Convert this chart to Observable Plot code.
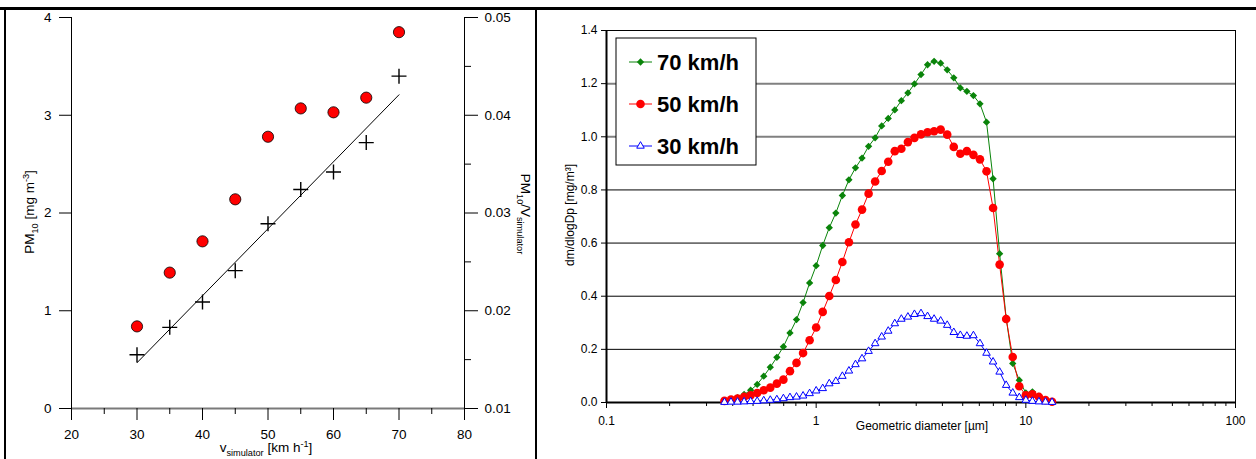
<!DOCTYPE html>
<html><head><meta charset="utf-8">
<script src="https://cdn.jsdelivr.net/npm/d3@7"></script>
<script src="https://cdn.jsdelivr.net/npm/@observablehq/plot@0.6"></script>
<style>
body{margin:0;background:#fff;width:1256px;height:459px;overflow:hidden;position:relative;font-family:"Liberation Sans",Arial,sans-serif}
#left{position:absolute;left:0;top:0}
#right{position:absolute;left:540px;top:0}
.bt{position:absolute;background:#000}
</style></head><body>
<div id="left"></div><div id="right"></div>
<div class="bt" style="left:0;top:7px;width:1256px;height:3px"></div>
<div class="bt" style="left:4px;top:7px;width:2px;height:452px"></div>
<div class="bt" style="left:535px;top:7px;width:2px;height:452px"></div>
<script>
// ---------- Left panel data ----------
const speeds = [30, 35, 40, 45, 50, 55, 60, 65, 70];
const pm10 = [0.84, 1.39, 1.71, 2.14, 2.78, 3.07, 3.03, 3.18, 3.85];
const pm10PerV = [0.0155, 0.0183, 0.0209, 0.0241, 0.0289, 0.0324, 0.0342, 0.0372, 0.0440];
const leftXTicks = [20, 30, 40, 50, 60, 70, 80];
const leftXMinor = [25, 35, 45, 55, 65, 75];
const leftYTicks = [0, 1, 2, 3, 4];
const rightAxisLabels = ["0.01", "0.02", "0.03", "0.04", "0.05"];
const rightAxisMinor = [0.5, 1.5, 2.5, 3.5];

// ---------- Right panel data ----------
const diameters = [0.3652,0.3924,0.4217,0.4532,0.4870,0.5233,0.5623,0.6043,0.6494,0.6978,
  0.7499,0.8058,0.8660,0.9306,1.000,1.0746,1.1548,1.2409,1.3335,1.4330,
  1.5399,1.6548,1.7783,1.9110,2.0535,2.2067,2.3714,2.5483,2.7384,2.9427,
  3.1623,3.3982,3.6517,3.9242,4.2170,4.5315,4.8697,5.2330,5.6234,6.0430,
  6.4938,6.9783,7.4989,8.0584,8.6596,9.3057,10.000,10.746,11.548,12.409,13.335];
const v70 = [0.005,0.010,0.018,0.030,0.046,0.068,0.099,0.133,0.170,0.210,
  0.262,0.312,0.376,0.450,0.515,0.591,0.658,0.713,0.779,0.838,
  0.883,0.920,0.964,0.996,1.041,1.069,1.101,1.136,1.165,1.199,
  1.234,1.271,1.284,1.277,1.252,1.222,1.184,1.171,1.155,1.124,
  1.055,0.842,0.560,0.318,0.147,0.084,0.036,0.040,0.024,0.011,0.003];
const v50 = [0.006,0.011,0.015,0.021,0.027,0.036,0.046,0.056,0.071,0.086,
  0.118,0.149,0.186,0.234,0.282,0.341,0.401,0.461,0.529,0.603,
  0.670,0.726,0.786,0.832,0.871,0.906,0.946,0.955,0.980,0.996,
  1.009,1.017,1.021,1.027,1.008,0.962,0.936,0.946,0.932,0.915,
  0.870,0.732,0.519,0.314,0.171,0.061,0.027,0.031,0.021,0.009,0.003];
const v30 = [0.001,0.002,0.002,0.003,0.004,0.005,0.007,0.009,0.011,0.015,
  0.019,0.021,0.025,0.034,0.044,0.053,0.071,0.080,0.099,0.119,
  0.143,0.165,0.193,0.222,0.247,0.269,0.297,0.314,0.322,0.332,
  0.335,0.324,0.314,0.307,0.291,0.264,0.253,0.250,0.252,0.222,
  0.186,0.153,0.115,0.065,0.036,0.019,0.009,0.005,0.003,0.002,0.001];
const seriesNames = ["70 km/h", "50 km/h", "30 km/h"];
const rightXTicks = [0.1, 1, 10, 100];
const rightXMinor = [0.2,0.3,0.4,0.5,0.6,0.7,0.8,0.9,2,3,4,5,6,7,8,9,20,30,40,50,60,70,80,90];
const rightYTicks = [0, 0.2, 0.4, 0.6, 0.8, 1.0, 1.2, 1.4];
const gridDark = [0.2, 0.4, 0.6, 0.8];
const gridGray = [1.0, 1.2];

const FONT = '"Liberation Sans", Arial, sans-serif';

// ---------- Left panel ----------
const rightToLeft = r => (r - 0.01) / 0.01;
const leftData = speeds.map((v, i) => ({v, pm: pm10[i], ratio: rightToLeft(pm10PerV[i])}));

const leftPlot = Plot.plot({
  width: 536, height: 459,
  marginLeft: 71, marginRight: 72, marginTop: 17, marginBottom: 51,
  x: {domain: [20, 80]},
  y: {domain: [0, 4]},
  style: {fontFamily: FONT, fontSize: "13.5px", color: "#000", background: "transparent", overflow: "visible"},
  marks: [
    Plot.ruleY([0], {stroke: "#7a7a7a", strokeWidth: 2}),
    Plot.ruleX([20], {stroke: "#000", strokeWidth: 1}),
    Plot.ruleX([80], {stroke: "#000", strokeWidth: 1}),
    Plot.axisX({ticks: leftXTicks, tickSize: 12, tickPadding: 9, label: null, tickFormat: d => String(d)}),
    Plot.axisX({ticks: leftXMinor, tickSize: 6, label: null, tickFormat: () => ""}),
    Plot.axisY({ticks: leftYTicks, tickSize: 12, tickPadding: 8, label: null, tickFormat: d => String(d)}),
    Plot.axisY({anchor: "right", ticks: leftYTicks, tickSize: 13, tickPadding: 7, label: null, tickFormat: d => rightAxisLabels[d]}),
    Plot.axisY({anchor: "right", ticks: rightAxisMinor, tickSize: 6, label: null, tickFormat: () => ""}),
    Plot.linearRegressionY(leftData, {x: "v", y: "ratio", ci: 0, stroke: "#000", strokeWidth: 1}),
    Plot.dot(leftData, {x: "v", y: "ratio", symbol: "plus", r: 4.9, stroke: "#000", strokeWidth: 1.4}),
    Plot.dot(leftData, {x: "v", y: "pm", r: 5.6, fill: "#ff0000", stroke: "#000", strokeWidth: 0.8})
  ]
});
document.getElementById("left").appendChild(leftPlot);

function addRich(svg, x, y, rot, size, parts, anchor = "middle", weight = "normal") {
  const t = d3.select(svg).append("text")
    .attr("transform", `translate(${x},${y}) rotate(${rot})`)
    .attr("text-anchor", anchor)
    .attr("font-family", FONT)
    .attr("font-size", size)
    .attr("font-weight", weight)
    .attr("fill", "#000");
  let cur = 0;
  for (const p of parts) {
    const s = t.append("tspan").text(p.t);
    let target = p.sub ? 0.3 * size : p.sup ? -0.4 * size : 0;
    s.attr("dy", target - cur);
    cur = target;
    if (p.sub || p.sup) s.attr("font-size", size * 0.68);
  }
  return t;
}
addRich(leftPlot, 34, 212, -90, 13.5, [{t: "PM"}, {t: "10", sub: true}, {t: " [mg m"}, {t: "-3", sup: true}, {t: "]"}]);
addRich(leftPlot, 521, 214, 90, 13.5, [{t: "PM"}, {t: "10", sub: true}, {t: "/V"}, {t: "simulator", sub: true}]);
addRich(leftPlot, 266, 452, 0, 13.5, [{t: "v"}, {t: "simulator", sub: true}, {t: " [km h"}, {t: "-1", sup: true}, {t: "]"}]);

// ---------- Right panel ----------
const seriesValues = [v70, v50, v30];
const tidy = seriesValues.map((vals, s) => diameters.map((d, i) => ({d, value: vals[i], series: seriesNames[s]})));
const styles = [
  {color: "#0a840a", symbol: "diamond2", r: 3.3, fill: "#0a840a", stroke: "none"},
  {color: "#ff0000", symbol: "circle", r: 4.3, fill: "#ff0000", stroke: "none"},
  {color: "#0000ff", symbol: "triangle2", r: 3.6, fill: "#fff", stroke: "#0000ff"}
];
const seriesMarks = [];
for (let s = 0; s < 3; s++) {
  seriesMarks.push(Plot.line(tidy[s], {x: "d", y: "value", stroke: styles[s].color, strokeWidth: 1}));
}
for (let s = 0; s < 3; s++) {
  const st = styles[s];
  seriesMarks.push(Plot.dot(tidy[s], {x: "d", y: "value", symbol: st.symbol, r: st.r, fill: st.fill, stroke: st.stroke, strokeWidth: 1}));
}

const rightPlot = Plot.plot({
  width: 716, height: 459,
  marginLeft: 66, marginRight: 21, marginTop: 30, marginBottom: 57,
  x: {type: "log", domain: [0.1, 100]},
  y: {domain: [0, 1.4]},
  style: {fontFamily: FONT, fontSize: "12px", color: "#000", background: "transparent", overflow: "visible"},
  marks: [
    Plot.ruleY(gridDark, {stroke: "#000", strokeWidth: 1}),
    Plot.ruleY(gridGray, {stroke: "#808080", strokeWidth: 2}),
    Plot.frame({stroke: "#000", strokeWidth: 1}),
    Plot.ruleX([0.1], {stroke: "#000", strokeWidth: 2}),
    Plot.ruleY([0], {stroke: "#000", strokeWidth: 2}),
    Plot.axisY({ticks: rightYTicks, tickSize: 5, tickPadding: 4, label: null, tickFormat: d => d.toFixed(1)}),
    Plot.axisX({ticks: rightXTicks, tickSize: 6, tickPadding: 8, label: null, tickFormat: d => String(d)}),
    Plot.axisX({ticks: rightXMinor, tickSize: 4, label: null, tickFormat: () => ""}),
    ...seriesMarks
  ]
});
document.getElementById("right").appendChild(rightPlot);

addRich(rightPlot, 34, 215, -90, 12, [{t: "dm/dlogDp [mg/m³]"}]);
addRich(rightPlot, 382, 430, 0, 12, [{t: "Geometric diameter [µm]"}]);

// legend
const lg = d3.select(rightPlot).append("g").attr("text-anchor", "start");
lg.append("rect").attr("x", 76).attr("y", 38).attr("width", 140).attr("height", 127)
  .attr("fill", "#fff").attr("stroke", "#000").attr("stroke-width", 1);
const symMap = {diamond2: d3.symbolDiamond2, circle: d3.symbolCircle, triangle2: d3.symbolTriangle2};
const rowsY = [62, 104, 146];
seriesNames.forEach((name, i) => {
  const st = styles[i], y = rowsY[i];
  lg.append("line").attr("x1", 89).attr("x2", 112).attr("y1", y).attr("y2", y).attr("stroke", st.color).attr("stroke-width", 1);
  lg.append("path").attr("transform", `translate(100.5,${y})`)
    .attr("d", d3.symbol(symMap[st.symbol], Math.PI * st.r * st.r)())
    .attr("fill", st.fill).attr("stroke", st.stroke).attr("stroke-width", 1);
  lg.append("text").attr("x", 117).attr("y", y + 8).attr("text-anchor", "start").attr("font-family", FONT)
    .attr("font-size", 22).attr("font-weight", "bold").attr("fill", "#000").text(name);
});
</script></body></html>
